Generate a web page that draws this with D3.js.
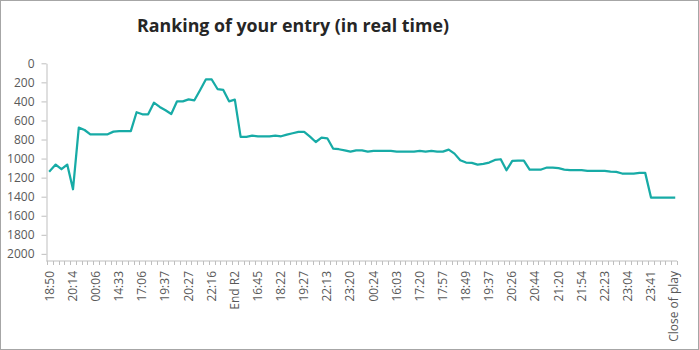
<!DOCTYPE html>
<html>
<head>
<meta charset="utf-8">
<script src="https://cdn.jsdelivr.net/npm/d3@7"></script>
<style>
  html, body { margin: 0; padding: 0; background: #fff; }
  svg { display: block; }
</style>
</head>
<body>
<svg id="chart" width="699" height="350"></svg>
<script>
// Ranking snapshots, one per update (109 in all); lower rank number is better.
const rankings = [
  1130, 1063, 1112, 1063, 1322, 675, 700, 745, 745, 745,
  745, 717, 712, 712, 712, 514, 535, 535, 413, 458,
  493, 532, 399, 399, 378, 388, 280, 168, 170, 270,
  280, 399, 382, 773, 773, 759, 766, 766, 766, 759,
  766, 748, 734, 720, 720, 770, 826, 780, 787, 895,
  902, 913, 927, 913, 913, 927, 920, 920, 920, 920,
  927, 927, 927, 927, 920, 927, 920, 927, 927, 906,
  948, 1017, 1042, 1045, 1063, 1056, 1042, 1014, 1007, 1122,
  1025, 1021, 1021, 1115, 1115, 1115, 1094, 1094, 1101, 1115,
  1122, 1122, 1122, 1129, 1129, 1129, 1129, 1136, 1140, 1157,
  1157, 1157, 1150, 1150, 1409, 1409, 1409, 1409, 1409
];

// Every fourth snapshot carries a time label on the category axis.
const tickLabels = [
  "18:50", "20:14", "00:06", "14:33", "17:06", "19:37", "20:27", "22:16",
  "End R2", "16:45", "18:22", "19:27", "22:13", "23:20", "00:24", "16:03",
  "17:20", "17:57", "18:49", "19:37", "20:26", "20:44", "21:20", "21:54",
  "22:23", "23:04", "23:41", "Close of play"
];
const labelEvery = 4;

const rankTicks = [0, 200, 400, 600, 800, 1000, 1200, 1400, 1600, 1800, 2000];

const title = "Ranking of your entry (in real time)";

const svg = d3.select("#chart");
const W = 699, H = 350;
const font = "'Open Sans', 'Noto Sans', sans-serif";
const axisGrey = "#bfbfbf";
const textGrey = "#595959";

// outer frame of the chart area
svg.append("rect")
  .attr("x", 0.5).attr("y", 0.5)
  .attr("width", W - 1).attr("height", H - 1)
  .attr("fill", "#fff")
  .attr("stroke", "#a6a6a6");

const plotLeft = 46.5, plotRight = 677, plotTop = 63.3, axisY = 261;

const x = d3.scaleBand()
  .domain(d3.range(rankings.length))
  .range([plotLeft + 0.5, plotRight])
  .padding(0);

// rank axis runs downward: rank 0 at the top
const y = d3.scaleLinear()
  .domain([0, 2075])
  .range([plotTop, axisY]);

// title
svg.append("text")
  .attr("x", 293)
  .attr("y", 32)
  .attr("text-anchor", "middle")
  .attr("font-family", font)
  .attr("font-weight", 700)
  .attr("font-size", 17.8)
  .attr("fill", "#262626")
  .text(title);

// vertical axis
const yAxis = svg.append("g")
  .attr("transform", `translate(${plotLeft},0)`)
  .call(d3.axisLeft(y).tickValues(rankTicks).tickFormat(d3.format("d"))
    .tickSize(5).tickPadding(7).tickSizeOuter(0));
yAxis.select(".domain").attr("stroke", axisGrey).attr("stroke-width", 1);
yAxis.selectAll(".tick line").attr("stroke", axisGrey);
yAxis.selectAll(".tick text")
  .attr("font-family", font).attr("font-size", 12).attr("fill", textGrey);

// horizontal category axis: small tick at every category boundary
const xg = svg.append("g").attr("transform", `translate(0,${axisY})`);
xg.append("line")
  .attr("x1", plotLeft).attr("x2", plotRight)
  .attr("stroke", axisGrey);
const boundaries = d3.range(rankings.length + 1).map(i => x.range()[0] + i * x.bandwidth());
xg.selectAll("line.cat")
  .data(boundaries)
  .join("line")
  .attr("class", "cat")
  .attr("x1", d => Math.round(d) + 0.5).attr("x2", d => Math.round(d) + 0.5)
  .attr("y1", 0).attr("y2", 4)
  .attr("stroke", axisGrey);

xg.selectAll("text.lbl")
  .data(tickLabels)
  .join("text")
  .attr("class", "lbl")
  .attr("transform", (d, i) => {
    const cx = x(i * labelEvery) + x.bandwidth() / 2;
    return `translate(${cx + 4},10) rotate(-90)`;
  })
  .attr("text-anchor", "end")
  .attr("font-family", font)
  .attr("font-size", 12)
  .attr("fill", textGrey)
  .text(d => d);

// ranking line
const line = d3.line()
  .x((d, i) => x(i) + x.bandwidth() / 2)
  .y(d => y(d));

svg.append("path")
  .datum(rankings)
  .attr("d", line)
  .attr("fill", "none")
  .attr("stroke", "#17ABA6")
  .attr("stroke-width", 2.25)
  .attr("stroke-linejoin", "round")
  .attr("stroke-linecap", "square");
</script>
</body>
</html>
